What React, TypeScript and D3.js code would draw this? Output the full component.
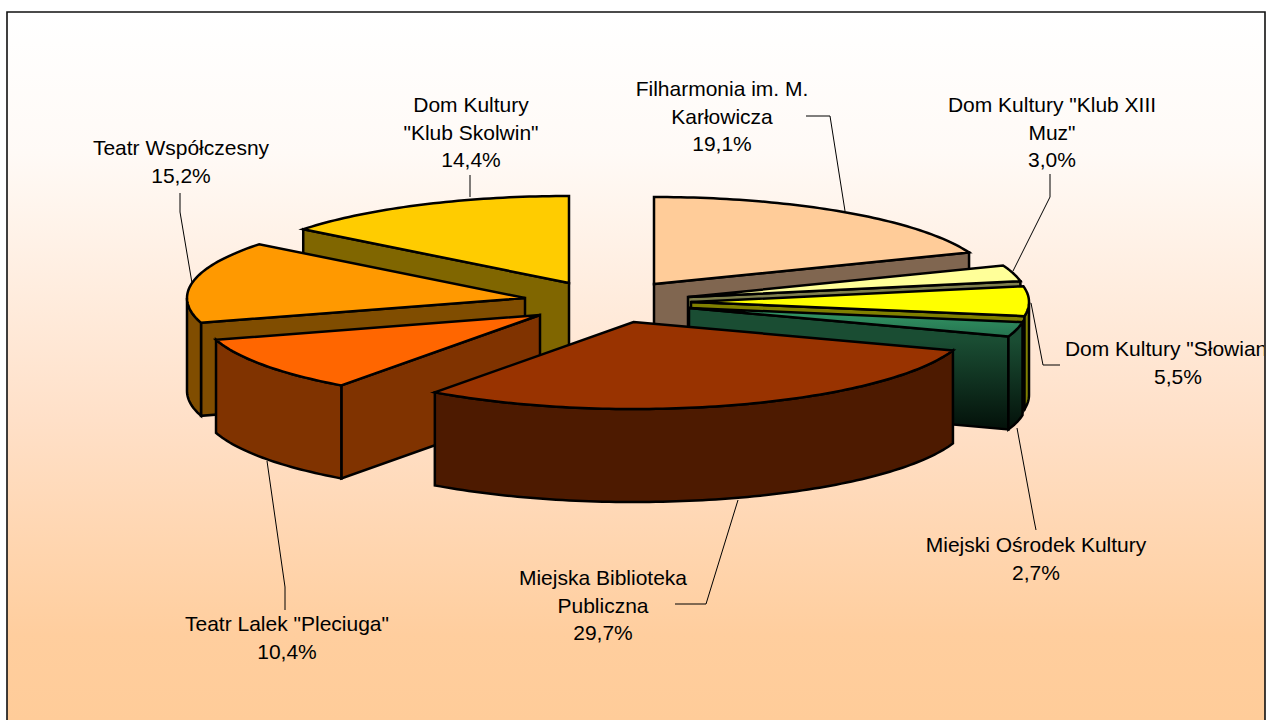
import React from "react";
import * as d3 from "d3";

const sliceNames = ["Filharmonia", "KlubXIII", "Slowian", "Miejski", "Biblioteka", "Lalek", "Wspolczesny", "Skolwin"];
const shares = [19.1, 3.0, 5.5, 2.7, 29.7, 10.4, 15.2, 14.4];
const labelLines = [
  ["Filharmonia im. M.", "Karłowicza"],
  ['Dom Kultury "Klub XIII', 'Muz"'],
  ['Dom Kultury "Słowianin"'],
  ["Miejski Ośrodek Kultury"],
  ["Miejska Biblioteka", "Publiczna"],
  ['Teatr Lalek "Pleciuga"'],
  ["Teatr Współczesny"],
  ["Dom Kultury", '"Klub Skolwin"'],
];

// layout (kept apart from the data)
const W = 1273, H = 720;
const RX = 338, RY = 87, DEPTH = 93;
const centers: [number, number][] = [
  [654, 284], [688, 297], [691, 302], [689, 308], [633.5, 322], [540, 315], [525, 298], [569, 283],
];
const tops = ["#FFCC99", "#FFFF99", "#FFFF00", "url(#greenTop)", "#993300", "#FF6600", "#FF9900", "#FFCC00"];
const walls = ["#806650", "#80804D", "#808000", "url(#greenWall)", "#4D1A00", "#803300", "#804D00", "#806600"];
const drawOrder = [0, 7, 6, 1, 2, 3, 5, 4];
const labelAnchors: [number, number][] = [
  [722, 89], [1052, 105], [1178, 349], [1036, 545], [603, 578], [287, 624], [181, 148], [471, 105],
];
const leaders: [number, number][][] = [
  [[806, 116], [830, 116], [845, 211]],
  [[1050, 174], [1050, 197], [1013, 271]],
  [[1060, 365], [1043, 365], [1031, 303]],
  [[1036, 530], [1034, 520], [1017, 428]],
  [[675, 604], [706, 604], [738, 500]],
  [[285, 610], [285, 587], [267, 461]],
  [[180, 193], [180, 212], [192, 283]],
  [[470, 175], [470, 197]],
];
const LINE_H = 27.5;

const pie = d3.pie<number>().sort(null).value((d) => d).startAngle(0).endAngle(2 * Math.PI);
const arcs = pie(shares);
const line = d3.line<[number, number]>();
const pct = (v: number) => v.toFixed(1).replace(".", ",") + "%";

function rimPoints(cx: number, cy: number, a0: number, a1: number, dy = 0): [number, number][] {
  const x = d3.scaleLinear([-1, 1], [cx - RX, cx + RX]);
  const y = d3.scaleLinear([-1, 1], [cy - RY + dy, cy + RY + dy]);
  const n = Math.max(2, Math.ceil(Math.abs(a1 - a0) / 0.02));
  return d3.range(n + 1).map((i) => {
    const a = a0 + ((a1 - a0) * i) / n;
    return [x(Math.sin(a)), y(-Math.cos(a))] as [number, number];
  });
}

function Slice({ index }: { index: number }) {
  const { startAngle: s, endAngle: e } = arcs[index];
  const [cx, cy] = centers[index];
  const faces: string[] = [];
  const radial = (a: number) => {
    const [p] = rimPoints(cx, cy, a, a);
    faces.push(line([[cx, cy], p, [p[0], p[1] + DEPTH], [cx, cy + DEPTH]])! + "Z");
  };
  if (s > Math.PI) radial(s);
  if (e < Math.PI) radial(e);
  const o0 = Math.max(s, Math.PI / 2), o1 = Math.min(e, (3 * Math.PI) / 2);
  if (o1 > o0) {
    faces.push(line([...rimPoints(cx, cy, o0, o1), ...rimPoints(cx, cy, o1, o0, DEPTH)])! + "Z");
  }
  const top = line([[cx, cy], ...rimPoints(cx, cy, s, e)])! + "Z";
  return (
    <g data-name={sliceNames[index]} stroke="#000" strokeWidth={2.5} strokeLinejoin="miter">
      {faces.map((d, i) => <path key={i} d={d} fill={walls[index]} />)}
      <path d={top} fill={tops[index]} />
    </g>
  );
}

export default function App() {
  return (
    <svg width={W} height={H} style={{ position: "absolute", left: 0, top: 0, display: "block" }}
      fontFamily="'Liberation Sans', Arial, sans-serif" fontSize={21}>
      <defs>
        <linearGradient id="bg" gradientUnits="userSpaceOnUse" x1="0" y1="12" x2="0" y2="720">
          <stop offset="0" stopColor="#FFFFFF" />
          <stop offset="0.2" stopColor="#FFFAF6" />
          <stop offset="0.576" stopColor="#FFE0C8" />
          <stop offset="0.88" stopColor="#FFCE9E" />
          <stop offset="1" stopColor="#FFCC99" />
        </linearGradient>
        <linearGradient id="greenTop" x1="0" y1="0" x2="0" y2="1">
          <stop offset="0" stopColor="#339966" />
          <stop offset="1" stopColor="#267350" />
        </linearGradient>
        <linearGradient id="greenWall" gradientUnits="userSpaceOnUse" x1="0" y1="340" x2="0" y2="430">
          <stop offset="0" stopColor="#1A4D33" />
          <stop offset="1" stopColor="#031009" />
        </linearGradient>
        <clipPath id="frameClip"><rect x={7} y={12} width={1257} height={708} /></clipPath>
      </defs>
      <rect x={7} y={12} width={1258} height={708} fill="url(#bg)" />
      <path d="M7,720V12H1265V720" fill="none" stroke="#111" strokeWidth={1.6} />
      <g fill="none" stroke="#000" strokeWidth={1}>
        {leaders.map((pts, i) => <path key={i} d={line(pts)!} />)}
      </g>
      {drawOrder.map((i) => <Slice key={i} index={i} />)}
      <g clipPath="url(#frameClip)" textAnchor="middle" fill="#000">
        {labelLines.map((lines, i) => (
          <text key={i} x={labelAnchors[i][0]} y={labelAnchors[i][1] + 7}>
            {[...lines, pct(shares[i])].map((t, j) => (
              <tspan key={j} x={labelAnchors[i][0]} y={labelAnchors[i][1] + 7 + j * LINE_H}>{t}</tspan>
            ))}
          </text>
        ))}
      </g>
    </svg>
  );
}
